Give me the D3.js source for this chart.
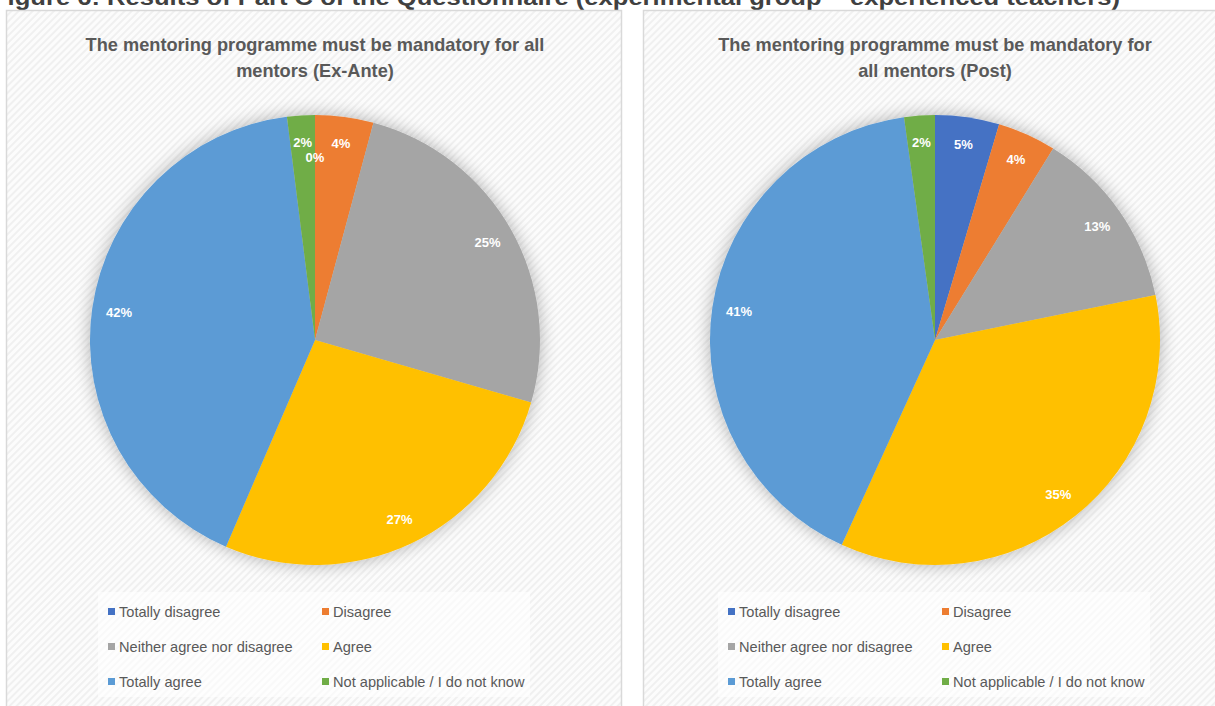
<!DOCTYPE html>
<html><head><meta charset="utf-8">
<script src="https://cdn.jsdelivr.net/npm/d3@7"></script>
<style>html,body{margin:0;padding:0;background:#fff;overflow:hidden}</style>
</head><body>
<svg id="chart" width="1215" height="706"></svg>
<script>
// ---- data ----
const categories = ["Totally disagree","Disagree","Neither agree nor disagree","Agree","Totally agree","Not applicable / I do not know"];
const exAnteValues = [0, 4.2, 25.4, 27.1, 41.7, 2.0];
const postValues = [4.6, 4.2, 13.0, 35.0, 41.0, 2.2];
const chartTitles = [
  ["The mentoring programme must be mandatory for all","mentors  (Ex-Ante)"],
  ["The mentoring programme must be mandatory for","all mentors (Post)"]
];
const figureTitle = "Figure 6: Results of Part C of the Questionnaire (experimental group \u2013 experienced teachers)";
const colors = ["#4472C4","#ED7D31","#A5A5A5","#FFC000","#5B9BD5","#70AD47"];

const svg = d3.select("#chart");
const defs = svg.append("defs");
const pat = defs.append("pattern").attr("id","stripes").attr("patternUnits","userSpaceOnUse")
  .attr("width",5).attr("height",5).attr("patternTransform","rotate(45)");
pat.append("rect").attr("width",5).attr("height",5).attr("fill","#fcfcfc");
pat.append("rect").attr("width",2).attr("height",5).attr("fill","#f0f0f0");
const filt = defs.append("filter").attr("id","shadow").attr("x","-30%").attr("y","-30%").attr("width","160%").attr("height","160%");
filt.append("feGaussianBlur").attr("in","SourceAlpha").attr("stdDeviation",9).attr("result","b");
filt.append("feComponentTransfer").attr("in","b").attr("result","c")
  .append("feFuncA").attr("type","linear").attr("slope",0.3);
const fm = filt.append("feMerge");
fm.append("feMergeNode").attr("in","c");
fm.append("feMergeNode").attr("in","SourceGraphic");

// figure title (clipped at top, as in the source)
svg.append("text").attr("x",-8).attr("y",5)
  .attr("textLength",1128).attr("lengthAdjust","spacingAndGlyphs")
  .style("font-family","'Liberation Sans',Arial,sans-serif").style("font-weight","bold")
  .style("font-size","22px").attr("fill","#404040").text(figureTitle);

const panels = [
  {x:6.5, w:615, cx:315, values:exAnteValues, title:chartTitles[0]},
  {x:643.5, w:600, cx:935, values:postValues, title:chartTitles[1]}
];
const R = 225, cy = 340;

panels.forEach(p => {
  const g = svg.append("g");
  g.append("rect").attr("x",p.x).attr("y",10.5).attr("width",p.w).attr("height",720)
    .attr("fill","url(#stripes)").attr("stroke","#d9d9d9").attr("stroke-width",1.5);

  p.title.forEach((line,i) => {
    g.append("text").attr("x",p.cx).attr("y",51 + i*26).attr("text-anchor","middle")
      .style("font-family","'Liberation Sans',Arial,sans-serif").style("font-weight","bold")
      .style("font-size","18.2px").attr("fill","#595959").text(line);
  });

  const pie = d3.pie().sort(null).value(d => d)(p.values);
  const arc = d3.arc().innerRadius(0).outerRadius(R);
  const pg = g.append("g").attr("transform",`translate(${p.cx},${cy})`);
  const sg = pg.append("g").attr("filter","url(#shadow)");
  sg.selectAll("path").data(pie).join("path")
    .attr("d",arc).attr("fill",(d,i)=>colors[i]);

  pg.selectAll("text.lbl").data(pie).join("text").attr("class","lbl")
    .attr("transform", d => {
      const a = (d.startAngle + d.endAngle)/2;
      const rr = (d.endAngle - d.startAngle) < 0.001 ? 0.81*R : 0.88*R;
      return `translate(${Math.sin(a)*rr},${-Math.cos(a)*rr})`;
    })
    .attr("text-anchor","middle").attr("dy","0.35em")
    .style("font-family","'Liberation Sans',Arial,sans-serif").style("font-weight","bold")
    .style("font-size","13px").attr("fill","#fff")
    .text(d => Math.round(d.data) + "%");

  const lx = p.cx - 207;
  const lg = g.append("g");
  lg.append("rect").attr("x",lx-10).attr("y",592).attr("width",432).attr("height",105)
    .attr("fill","#fff").attr("opacity",0.6);
  categories.forEach((c,i) => {
    const col = i % 2, row = Math.floor(i/2);
    const x = lx + col*214, y = 612 + row*35;
    lg.append("rect").attr("x",x).attr("y",y-4).attr("width",7).attr("height",7).attr("fill",colors[i]);
    lg.append("text").attr("x",x+11).attr("y",y).attr("dy","0.35em")
      .style("font-family","'Liberation Sans',Arial,sans-serif").style("font-size","14.6px")
      .attr("fill","#595959").text(c);
  });
});
</script>
</body></html>
